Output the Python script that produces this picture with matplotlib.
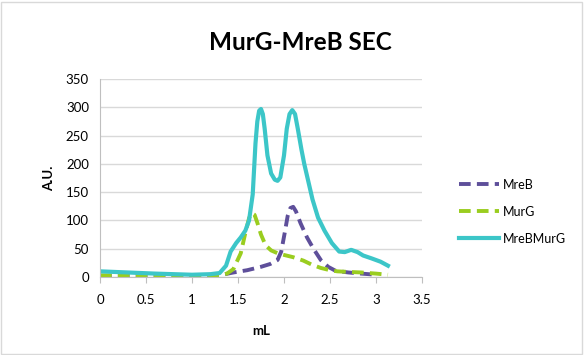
import matplotlib.pyplot as plt
from matplotlib.patches import Rectangle

plt.rcParams['font.family'] = ['Lato', 'DejaVu Sans']

# MreB (dashed purple)
mreb_x = [0, 0.5, 1.0, 1.3, 1.45, 1.6, 1.75, 1.85, 1.93, 1.97, 2.01, 2.04, 2.07, 2.1, 2.13,
          2.18, 2.25, 2.32, 2.4, 2.48, 2.56, 2.7, 2.84, 3.0]
mreb_y = [2, 2, 2, 3, 8, 12, 18, 23, 30, 45, 80, 108, 122, 124, 116,
          95, 70, 50, 30, 18, 11, 8, 6, 4]

# MurG (dashed green)
murg_x = [0, 0.5, 1.0, 1.3, 1.38, 1.45, 1.53, 1.58, 1.62, 1.65, 1.68, 1.71, 1.75, 1.8, 1.86,
          1.93, 2.0, 2.1, 2.21, 2.3, 2.4, 2.5, 2.58, 2.7, 2.84, 3.0, 3.13]
murg_y = [3, 2, 2, 3, 6, 14, 42, 78, 104, 113, 110, 96, 75, 56, 47,
          42, 39, 35, 29, 22, 16, 12, 10, 9, 8, 6, 4]

# MreBMurG (solid cyan)
mbmg_x = [0, 0.3, 0.6, 1.0, 1.2, 1.3, 1.37, 1.42, 1.48, 1.53, 1.58, 1.62, 1.66, 1.69,
          1.71, 1.73, 1.75, 1.77, 1.79, 1.82, 1.86, 1.9, 1.93, 1.96, 2.0, 2.03, 2.06,
          2.09, 2.12, 2.15, 2.19, 2.22, 2.27, 2.31, 2.37, 2.44, 2.52, 2.6, 2.66, 2.73,
          2.8, 2.86, 2.95, 3.05, 3.13]
mbmg_y = [10, 8, 6, 4, 5, 7, 20, 45, 60, 70, 82, 100, 146, 236,
          275, 294, 297, 288, 262, 215, 183, 172, 170, 176, 215, 262, 288,
          295, 288, 262, 225, 200, 165, 137, 105, 82, 60, 45, 44, 48,
          44, 38, 33, 27, 20]

ticks_x = [0, 0.5, 1, 1.5, 2, 2.5, 3, 3.5]
tick_labels_x = ['0', '0.5', '1', '1.5', '2', '2.5', '3', '3.5']
ticks_y = [0, 50, 100, 150, 200, 250, 300, 350]

fig = plt.figure(figsize=(5.84, 3.55), dpi=100)
fig.patches.append(Rectangle((0.002, 0.004), 0.995, 0.99, transform=fig.transFigure,
                             fill=False, edgecolor='#d9d9d9', linewidth=1))
ax = fig.add_axes([100 / 584, 1 - 277 / 355, 322 / 584, 198 / 355])

ax.plot(mreb_x, mreb_y, color='#5e4f9a', linewidth=2.8, linestyle=(0, (3, 1.6)), label='MreB')
ax.plot(murg_x, murg_y, color='#9acd1f', linewidth=2.8, linestyle=(0, (3, 1.6)), label='MurG')
ax.plot(mbmg_x, mbmg_y, color='#3cc6c8', linewidth=3, label='MreBMurG',
        solid_joinstyle='round')

ax.set_xlim(0, 3.5)
ax.set_ylim(0, 350)
ax.set_xticks(ticks_x)
ax.set_xticklabels(tick_labels_x)
ax.set_yticks(ticks_y)
ax.grid(axis='y', color='#d9d9d9', linewidth=1)
ax.set_axisbelow(True)
for s in ['top', 'right']:
    ax.spines[s].set_visible(False)
for s in ['left', 'bottom']:
    ax.spines[s].set_color('#bfbfbf')
ax.tick_params(axis='x', direction='out', length=4, color='#bfbfbf', labelsize=9.5, pad=8)
ax.tick_params(axis='y', length=0, labelsize=9.5, pad=8)

fig.text(300 / 584, 1 - 43 / 355, 'MurG-MreB SEC', fontsize=17.5, fontweight='bold',
         ha='center', va='center')
ax.set_xlabel('mL', fontsize=9.5, fontweight='bold', labelpad=14)
ax.set_ylabel('A.U.', fontsize=9.5, fontweight='bold', labelpad=8)

ax.legend(loc='center left', bbox_to_anchor=(1.08, 0.33), frameon=False, fontsize=9,
          handlelength=3.2, labelspacing=1.2, handletextpad=0.3)

fig.savefig('out.png', dpi=100)
